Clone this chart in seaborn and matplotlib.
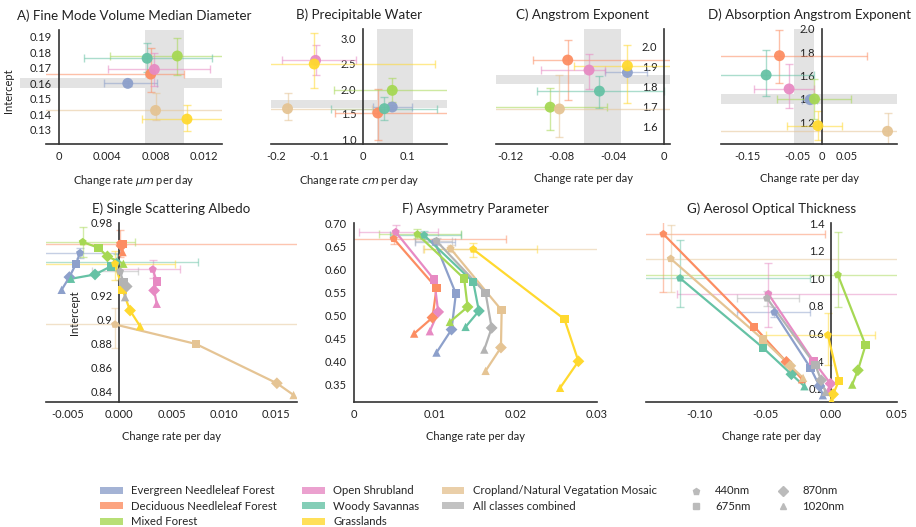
import pandas as pd
import matplotlib
matplotlib.use("Agg")
import matplotlib.pyplot as plt
import seaborn as sns
from matplotlib.patches import Patch
from matplotlib.lines import Line2D

sns.set_theme(style="white")
plt.rcParams['font.family'] = ['Lato', 'DejaVu Sans']
plt.rcParams['mathtext.fontset'] = 'dejavusans'

# classes and colours
classes = ["Evergreen Needleleaf Forest", "Deciduous Needleleaf Forest", "Mixed Forest",
           "Open Shrubland", "Woody Savannas", "Grasslands",
           "Cropland/Natural Vegatation Mosaic", "All classes combined"]
top_classes = classes[:7]
wavelengths = ["440nm", "675nm", "870nm", "1020nm"]
set2 = sns.color_palette("Set2")
colors = dict(zip(classes, [set2[2], set2[1], set2[4], set2[3], set2[0], set2[5], set2[6], set2[7]]))

# A) Fine Mode Volume Median Diameter
fmd_x = [0.0057, 0.0076, 0.0098, 0.0079, 0.0073, 0.0106, 0.0080]
fmd_y = [0.160, 0.166, 0.1777, 0.169, 0.1762, 0.1369, 0.1425]
fmd_xlo = [0.0037, -0.002, 0.0042, 0.0041, 0.0021, 0.0069, -0.003]
fmd_xhi = [0.0081, 0.01035, 0.016, 0.0125, 0.01266, 0.016, 0.016]
fmd_ylo = [0.1585, 0.1541, 0.1657, 0.158, 0.1676, 0.1289, 0.1365]
fmd_yhi = [0.1615, 0.1827, 0.1896, 0.1797, 0.1859, 0.1461, 0.154]
fmd_band_x = [0.00716, 0.01035]
fmd_band_y = [0.1573, 0.1633]

# B) Precipitable Water
pw_x = [0.066, 0.033, 0.066, -0.109, 0.048, -0.112, -0.173]
pw_y = [1.64, 1.52, 1.973, 2.573, 1.607, 2.50, 1.607]
pw_xlo = [0.023, -0.065, -0.066, -0.185, -0.074, -0.30, -0.30]
pw_xhi = [0.112, 0.25, 0.25, -0.017, 0.168, 0.164, 0.02]
pw_ylo = [1.60, 0.99, 1.73, 2.27, 1.37, 2.02, 1.37]
pw_yhi = [1.68, 2.00, 2.22, 2.87, 1.84, 3.12, 1.91]
pw_band_x = [0.032, 0.113]
pw_band_y = [1.62, 1.78]

# C) Angstrom Exponent
ae_x = [-0.0288, -0.0753, -0.089, -0.0587, -0.0506, -0.0288, -0.0818]
ae_y = [1.87, 1.932, 1.697, 1.882, 1.777, 1.903, 1.688]
ae_xlo = [-0.046, -0.102, -0.15, -0.0964, -0.0995, -0.0702, -0.15]
ae_xhi = [-0.0138, 0.02, -0.045, -0.0462, 0.0, 0.01, 0.02]
ae_ylo = [1.86, 1.733, 1.583, 1.79, 1.693, 1.717, 1.55]
ae_yhi = [1.88, 2.03, 1.792, 1.963, 1.85, 2.008, 1.858]
ae_band_x = [-0.0623, -0.034]
ae_band_y = [1.81, 1.858]

# D) Absorption Angstrom Exponent
aae_x = [-0.0235, -0.0852, -0.0148, -0.0658, -0.112, -0.008, 0.132]
aae_y = [1.394, 1.771, 1.40, 1.486, 1.606, 1.171, 1.123]
aae_xlo = [-0.04, -0.25, -0.0906, -0.136, -0.25, -0.0705, -0.25]
aae_xhi = [-0.01, 0.0906, 0.059, -0.0168, -0.0168, 0.0403, 0.25]
aae_ylo = [1.38, 1.537, 1.231, 1.323, 1.423, 1.051, 0.95]
aae_yhi = [1.41, 1.994, 1.571, 1.70, 1.823, 1.294, 1.28]
aae_band_x = [-0.055, -0.0148]
aae_band_y = [1.357, 1.446]

# E) Single Scattering Albedo (440, 675, 870, 1020 nm)
ssa_x = [[-0.00378, -0.00416, -0.0048, -0.00554],
         [0.00006, 0.0003, 0.0002, 0.0003],
         [-0.00352, -0.00202, -0.00115, 0.00038],
         [0.0032, 0.00358, 0.00333, 0.00358],
         [-0.00026, -0.00083, -0.00234, -0.00464],
         [-0.00042, 0.0003, 0.00102, 0.00198],
         [-0.00042, 0.00733, 0.0151, 0.0167],
         [0.00006, 0.00038, 0.0007, 0.00054]]
ssa_y = [[0.955, 0.9461, 0.935, 0.9244],
         [0.9628, 0.9628, 0.961, 0.9558],
         [0.9642, 0.9594, 0.9522, 0.9461],
         [0.9414, 0.9314, 0.9239, 0.9128],
         [0.9475, 0.9439, 0.9372, 0.9336],
         [0.9461, 0.9244, 0.9072, 0.8942],
         [0.8956, 0.8794, 0.8467, 0.8369],
         [0.9397, 0.9308, 0.9272, 0.9183]]
ssa_xlo = [-0.01, -0.01, -0.01, 0.0, -0.01, -0.01, -0.01, -0.0026]
ssa_xhi = [0.0001, 0.02, 0.0015, 0.00583, 0.00752, 0.00535, 0.02, 0.0018]
ssa_ylo = [0.9505, 0.9517, 0.952, 0.934, 0.941, 0.9322, 0.8758, 0.933]
ssa_yhi = [0.9595, 0.9744, 0.977, 0.9494, 0.954, 0.9564, 0.9092, 0.946]

# F) Asymmetry Parameter
ap_x = [[0.01001, 0.01262, 0.01208, 0.01022],
        [0.00492, 0.01022, 0.00972, 0.00745],
        [0.00786, 0.01365, 0.01407, 0.01187],
        [0.00517, 0.00993, 0.01043, 0.00939],
        [0.00869, 0.01477, 0.01547, 0.01382],
        [0.01477, 0.02607, 0.0278, 0.02553],
        [0.01196, 0.01829, 0.0182, 0.0163],
        [0.01022, 0.0163, 0.01705, 0.01614]]
ap_y = [[0.6588, 0.5468, 0.4688, 0.4189],
        [0.666, 0.5591, 0.4948, 0.4601],
        [0.6754, 0.5793, 0.5179, 0.4854],
        [0.6805, 0.5772, 0.5071, 0.4652],
        [0.6733, 0.5721, 0.5092, 0.4746],
        [0.6429, 0.4912, 0.40, 0.3424],
        [0.6444, 0.5107, 0.4298, 0.3792],
        [0.661, 0.5483, 0.4724, 0.4254]]
ap_xlo = [0.0075, -0.001, 0.0031, 0.00062, 0.0045, 0.00865, 0.0085, 0.0076]
ap_xhi = [0.0125, 0.01878, 0.01324, 0.01043, 0.0132, 0.02271, 0.035, 0.0122]
ap_ylo = [0.653, 0.654, 0.668, 0.67, 0.665, 0.6263, 0.638, 0.655]
ap_yhi = [0.665, 0.678, 0.686, 0.695, 0.682, 0.6566, 0.652, 0.667]

# G) Aerosol Optical Thickness
aot_x = [[-0.0431, -0.0157, -0.0089, -0.0063],
         [-0.1274, -0.0584, -0.034, -0.0221],
         [0.0051, 0.0261, 0.0203, 0.016],
         [-0.0477, -0.0135, -0.0005, -0.002],
         [-0.1147, -0.052, -0.0302, -0.0203],
         [-0.0025, 0.0058, 0.0015, 0.0003],
         [-0.1218, -0.0518, -0.031, -0.0213],
         [-0.0487, -0.012, -0.0076, -0.0043]]
aot_y = [[0.753, 0.35, 0.219, 0.152],
         [1.32, 0.6485, 0.394, 0.268],
         [1.024, 0.515, 0.333, 0.229],
         [0.886, 0.40, 0.236, 0.19],
         [1.0, 0.498, 0.304, 0.217],
         [0.588, 0.256, 0.159, 0.115],
         [1.141, 0.556, 0.365, 0.278],
         [0.855, 0.37, 0.261, 0.176]]
aot_xlo = [-0.0716, -0.2, -0.2, -0.117, -0.2, -0.0492, -0.2, -0.0716]
aot_xhi = [-0.0157, -0.0043, 0.1, 0.1, -0.0159, 0.0333, 0.1, -0.0246]
aot_ylo = [0.72, 0.90, 0.789, 0.648, 0.789, 0.37, 0.903, 0.80]
aot_yhi = [0.79, 1.50, 1.332, 1.109, 1.279, 0.745, 1.388, 0.91]

W, H = 916, 527
band_color = "#e3e3e3"
axis_color = "#333333"
text_color = "#222222"


def px_axes(fig, l, t, r, b):
    return fig.add_axes([l / W, 1 - b / H, (r - l) / W, (b - t) / H])


def style(ax, title, xlim, ylim, xticks, xlabels, yticks, ylabels, xlabel):
    ax.set_xlim(xlim)
    ax.set_ylim(ylim)
    for s in ["top", "right"]:
        ax.spines[s].set_visible(False)
    ax.spines["left"].set_position(("data", 0))
    for s in ["left", "bottom"]:
        ax.spines[s].set_color(axis_color)
        ax.spines[s].set_linewidth(1.2)
    ax.set_xticks(xticks, xlabels)
    ax.set_yticks(yticks, ylabels)
    ax.tick_params(direction="in", length=5, width=1, color=axis_color,
                   labelsize=8, labelcolor=text_color, pad=5)
    ax.set_title(title, fontsize=9.6, pad=7, color=text_color)
    ax.set_xlabel(xlabel, fontsize=8, labelpad=8, color=text_color)
    ax.set_ylabel("")
    ax.set_axisbelow(True)


def top_panel(ax, x, y, xlo, xhi, ylo, yhi, bx, by, band_ext=0.0):
    ax.axvspan(bx[0], bx[1], color=band_color, lw=0, zorder=0)
    ax.axhspan(by[0], by[1], xmin=-band_ext, color=band_color, lw=0, zorder=0,
               clip_on=band_ext == 0)
    for i, c in enumerate(top_classes):
        ax.errorbar(x[i], y[i], xerr=[[x[i] - xlo[i]], [xhi[i] - x[i]]],
                    yerr=[[y[i] - ylo[i]], [yhi[i] - y[i]]], fmt="none",
                    ecolor=colors[c], alpha=0.55, elinewidth=1, capsize=2.6, zorder=2)
    df = pd.DataFrame({"x": x, "y": y, "cls": top_classes})
    sns.scatterplot(data=df, x="x", y="y", hue="cls", palette=colors, s=62, alpha=0.95,
                    edgecolor="none", legend=False, ax=ax, zorder=3)


def bottom_panel(ax, xs, ys, xlo, xhi, ylo, yhi):
    rows = []
    for i, c in enumerate(classes):
        ax.errorbar(xs[i][0], ys[i][0], xerr=[[xs[i][0] - xlo[i]], [xhi[i] - xs[i][0]]],
                    yerr=[[ys[i][0] - ylo[i]], [yhi[i] - ys[i][0]]], fmt="none",
                    ecolor=colors[c], alpha=0.5, elinewidth=1, capsize=2.6, zorder=2)
        for j, wl in enumerate(wavelengths):
            rows.append({"cls": c, "wl": wl, "x": xs[i][j], "y": ys[i][j]})
    df = pd.DataFrame(rows)
    sns.lineplot(data=df, x="x", y="y", hue="cls", units="cls", estimator=None, sort=False,
                 palette=colors, lw=1.6, legend=False, ax=ax, zorder=3)
    sns.scatterplot(data=df, x="x", y="y", hue="cls", style="wl",
                    markers={"440nm": "p", "675nm": "s", "870nm": "D", "1020nm": "^"},
                    palette=colors, s=36, edgecolor="none", legend=False, ax=ax, zorder=4)


fig = plt.figure(figsize=(W / 100, H / 100), dpi=100)

axA = px_axes(fig, 46, 30, 222, 144)
top_panel(axA, fmd_x, fmd_y, fmd_xlo, fmd_xhi, fmd_ylo, fmd_yhi, fmd_band_x, fmd_band_y, 0.15)
style(axA, "A) Fine Mode Volume Median Diameter", (-0.00107, 0.0135), (0.1208, 0.1945),
      [0, 0.004, 0.008, 0.012], ["0", "0.004", "0.008", "0.012"],
      [0.13, 0.14, 0.15, 0.16, 0.17, 0.18, 0.19], None, r"Change rate $\mu m$ per day")
axA.set_ylabel("Intercept", fontsize=8, color=text_color)
axA.yaxis.set_label_coords(-0.18, 0.47)

axB = px_axes(fig, 271, 29, 447, 144)
top_panel(axB, pw_x, pw_y, pw_xlo, pw_xhi, pw_ylo, pw_yhi, pw_band_x, pw_band_y)
style(axB, "B) Precipitable Water", (-0.2107, 0.191), (0.9, 3.2),
      [-0.2, -0.1, 0, 0.1], ["-0.2", "-0.1", "0", "0.1"],
      [1.0, 1.5, 2.0, 2.5, 3.0], None, r"Change rate $cm$ per day")

axC = px_axes(fig, 496, 29, 670, 144)
top_panel(axC, ae_x, ae_y, ae_xlo, ae_xhi, ae_ylo, ae_yhi, ae_band_x, ae_band_y)
style(axC, "C) Angstrom Exponent", (-0.1312, 0.0044), (1.513, 2.087),
      [-0.12, -0.08, -0.04, 0], ["-0.12", "-0.08", "-0.04", "0"],
      [1.6, 1.7, 1.8, 1.9, 2.0], None, "Change rate per day")

axD = px_axes(fig, 721, 29, 897, 144)
top_panel(axD, aae_x, aae_y, aae_xlo, aae_xhi, aae_ylo, aae_yhi, aae_band_x, aae_band_y)
style(axD, "D) Absorption Angstrom Exponent", (-0.2027, 0.151), (1.014, 2.0),
      [-0.15, -0.05, 0, 0.05], ["-0.15", "-0.05", "0", "0.05"],
      [1.2, 1.4, 1.6, 1.8, 2.0], None, "Change rate per day")

axE = px_axes(fig, 46, 223, 297, 402)
bottom_panel(axE, ssa_x, ssa_y, ssa_xlo, ssa_xhi, ssa_ylo, ssa_yhi)
style(axE, "E) Single Scattering Albedo", (-0.00704, 0.01703), (0.8311, 0.98),
      [-0.005, 0, 0.005, 0.010, 0.015], ["-0.005", "0.000", "0.005", "0.010", "0.015"],
      [0.84, 0.86, 0.88, 0.90, 0.92, 0.94, 0.96, 0.98],
      ["0.84", "0.86", "0.88", "0.9", "0.92", "", "", "0.98"], "Change rate per day")
axE.set_ylabel("Intercept", fontsize=8, color=text_color)
axE.yaxis.set_label_coords(0.135, 0.5)

axF = px_axes(fig, 354, 223, 597, 402)
bottom_panel(axF, ap_x, ap_y, ap_xlo, ap_xhi, ap_ylo, ap_yhi)
style(axF, "F) Asymmetry Parameter", (0, 0.0301), (0.3117, 0.70),
      [0, 0.01, 0.02, 0.03], ["0", "0.01", "0.02", "0.03"],
      [0.35, 0.40, 0.45, 0.50, 0.55, 0.60, 0.65, 0.70],
      ["0.35", "0.40", "0.45", "0.50", "0.55", "0.60", "0.65", "0.70"], "Change rate per day")

axG = px_axes(fig, 646, 223, 897, 402)
bottom_panel(axG, aot_x, aot_y, aot_xlo, aot_xhi, aot_ylo, aot_yhi)
style(axG, "G) Aerosol Optical Thickness", (-0.1406, 0.05), (0.103, 1.4),
      [-0.10, -0.05, 0, 0.05], ["-0.10", "-0.05", "0.00", "0.05"],
      [0.2, 0.4, 0.6, 0.8, 1.0, 1.2, 1.4], None, "Change rate per day")

# legend columns
legend_kw = dict(frameon=False, fontsize=8.2, borderpad=0, borderaxespad=0,
                 labelspacing=0.38, loc="upper left")
class_cols = [classes[0:3], classes[3:6], classes[6:8]]
for col, xpos in zip(class_cols, [100, 302, 441.5]):
    handles = [Patch(facecolor=colors[c], alpha=0.8, edgecolor="none") for c in col]
    fig.legend(handles, col, bbox_to_anchor=(xpos / W, 1 - 485.5 / H),
               handlelength=2.0, handleheight=0.6, handletextpad=0.75, **legend_kw)

shape_markers = dict(zip(wavelengths, ["p", "s", "D", "^"]))
shape_cols = [wavelengths[0:2], wavelengths[2:4]]
for col, xpos in zip(shape_cols, [690, 777]):
    handles = [Line2D([], [], ls="none", marker=shape_markers[w], color="#bbbbbb",
                      markersize=5) for w in col]
    fig.legend(handles, col, bbox_to_anchor=(xpos / W, 1 - 485.5 / H),
               handlelength=1.0, handletextpad=1.2, **legend_kw)

fig.savefig("out.png", dpi=100)
